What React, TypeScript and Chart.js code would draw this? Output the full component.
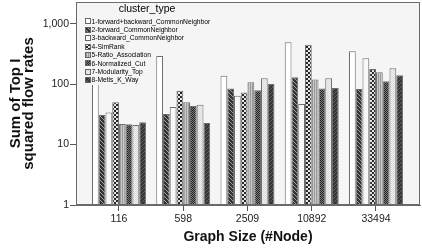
import React, { useEffect, useRef } from 'react';
import { Chart, registerables } from 'chart.js';

Chart.register(...registerables);

const categories = ['116', '598', '2509', '10892', '33494'];
const seriesNames = [
  '1-forward+backward_CommonNeighbor',
  '2-forward_CommonNeighbor',
  '3-backward_CommonNeighbor',
  '4-SimRank',
  '5-Ratio_Association',
  '6-Normalized_Cut',
  '7-Modularity_Top',
  '8-Metis_K_Way',
];
const s1 = [400, 293, 138, 495, 351];
const s2 = [31, 32, 85, 130, 83];
const s3 = [34, 42, 64, 47, 268];
const s4 = [50, 78, 73, 450, 178];
const s5 = [22, 50, 108, 119, 157];
const s6 = [21.7, 43.5, 79, 85, 112];
const s7 = [21, 45.7, 125, 125, 183];
const s8 = [23.4, 22.8, 101, 86, 140];
const seriesValues = [s1, s2, s3, s4, s5, s6, s7, s8];
const yTicks = [1, 10, 100, 1000];

const FONT = '"Liberation Sans", Arial, sans-serif';

type Cell = [number, number];

function makePattern(ctx: CanvasRenderingContext2D, size: number, bg: string, fg: string, cells: Cell[]) {
  const c = document.createElement('canvas');
  c.width = size;
  c.height = size;
  const g = c.getContext('2d')!;
  g.fillStyle = bg;
  g.fillRect(0, 0, size, size);
  g.fillStyle = fg;
  cells.forEach(([x, y]) => g.fillRect(x, y, 1, 1));
  return ctx.createPattern(c, 'repeat')!;
}

function buildFills(ctx: CanvasRenderingContext2D): (string | CanvasPattern)[] {
  const diagA: Cell[] = [[0, 0], [1, 1], [2, 2], [3, 3]];
  const diagB: Cell[] = [[3, 0], [2, 1], [1, 2], [0, 3]];
  const checker2: Cell[] = [[0, 0], [1, 0], [0, 1], [1, 1], [2, 2], [3, 2], [2, 3], [3, 3]];
  const checker1: Cell[] = [[0, 0], [1, 1]];
  const vstripe: Cell[] = [[0, 0], [0, 1]];
  return [
    '#ffffff',
    makePattern(ctx, 4, '#343434', '#a0a0a0', diagA),
    makePattern(ctx, 2, '#fbfbfb', '#eeeeee', [[0, 0]]),
    makePattern(ctx, 4, '#e6e6e6', '#262626', checker2),
    makePattern(ctx, 2, '#cacaca', '#9a9a9a', vstripe),
    makePattern(ctx, 2, '#7a7a7a', '#262626', checker1),
    makePattern(ctx, 2, '#f2f2f2', '#d8d8d8', checker1),
    makePattern(ctx, 4, '#363636', '#606060', diagB),
  ];
}

export default function App() {
  const ref = useRef<HTMLCanvasElement | null>(null);

  useEffect(() => {
    document.body.style.margin = '0';
    const canvas = ref.current!;
    const ctx = canvas.getContext('2d')!;
    const fills = buildFills(ctx);

    const bgPlugin = {
      id: 'plotBg',
      beforeDatasetsDraw(chart: any) {
        const { ctx: c, chartArea: a } = chart;
        c.save();
        c.fillStyle = '#f5f5f5';
        c.fillRect(a.left, a.top, a.right - a.left, a.bottom - a.top);
        c.restore();
      },
      afterDatasetsDraw(chart: any) {
        const { ctx: c, chartArea: a } = chart;
        c.save();
        c.strokeStyle = '#6a6a6a';
        c.lineWidth = 1;
        c.strokeRect(Math.round(a.left) + 0.5, Math.round(a.top) + 0.5, Math.round(a.right - a.left) - 1, Math.round(a.bottom - a.top) - 1);
        // legend
        c.fillStyle = '#f5f5f5';
        c.fillRect(80, 3, 72, 82);
        c.fillStyle = '#000';
        c.font = `10.5px ${FONT}`;
        c.textAlign = 'center';
        c.textBaseline = 'middle';
        c.fillText('cluster_type', 147, 9.5);
        c.font = `6.7px ${FONT}`;
        c.textAlign = 'left';
        seriesNames.forEach((name, i) => {
          const cy = 21.3 + i * 8.4;
          const top = Math.round(cy - 3);
          c.fillStyle = fills[i];
          c.fillRect(85, top, 6, 6);
          c.strokeStyle = '#666';
          c.strokeRect(85.5, top + 0.5, 5, 5);
          c.fillStyle = '#000';
          c.fillText(name, 91.5, cy + 0.5);
        });
        c.restore();
      },
    };

    const chart = new Chart(canvas, {
      type: 'bar',
      data: {
        datasets: seriesValues.map((vals, i) => ({
          label: seriesNames[i],
          data: vals.map((v, j) => ({ x: j, y: v })),
          backgroundColor: fills[i] as any,
          borderColor: '#6e6e6e',
          borderWidth: 1,
          borderSkipped: 'bottom' as const,
          categoryPercentage: 0.84,
          barPercentage: 1.0,
        })),
      },
      options: {
        responsive: false,
        animation: false,
        events: [],
        layout: { padding: { top: 2, right: 2, left: 0, bottom: 0 } },
        plugins: {
          legend: { display: false },
          tooltip: { enabled: false },
        },
        scales: {
          x: {
            type: 'linear',
            offset: false,
            min: -0.669,
            max: 4.685,
            afterFit: (s: any) => { s.height = 45; s.paddingLeft = 0; s.paddingRight = 0; },
            afterBuildTicks: (s: any) => { s.ticks = categories.map((_, i) => ({ value: i })); },
            grid: { offset: false, drawOnChartArea: false, drawTicks: true, tickLength: 6, color: '#555' },
            border: { display: true, color: '#6a6a6a' },
            ticks: {
              color: '#222',
              font: { family: FONT, size: 10.5 },
              padding: 2,
              maxRotation: 0,
              autoSkip: false,
              callback: (v: any) => categories[Math.round(Number(v))] ?? '',
            },
            title: {
              display: true,
              text: 'Graph Size (#Node)',
              color: '#111',
              font: { family: FONT, size: 14, weight: 'bold', lineHeight: 1.2 },
              padding: { top: 0, bottom: 4 },
            },
          },
          y: {
            type: 'logarithmic',
            min: 1,
            max: 2290,
            afterFit: (s: any) => { s.width = 76; s.paddingTop = 0; s.paddingBottom = 0; },
            afterBuildTicks: (s: any) => { s.ticks = yTicks.map((v) => ({ value: v, major: true })); },
            grid: { drawOnChartArea: false, drawTicks: true, tickLength: 6, color: '#555' },
            border: { display: true, color: '#6a6a6a' },
            ticks: {
              color: '#222',
              font: { family: FONT, size: 10.5 },
              padding: 1,
              autoSkip: false,
              callback: (v: any) => Number(v).toLocaleString('en-US'),
            },
            title: {
              display: true,
              text: ['Sum of Top I', 'squared flow rates'],
              color: '#111',
              font: { family: FONT, size: 15, weight: 'bold', lineHeight: 0.88 },
              padding: { top: 9.4, bottom: 0 },
            },
          },
        },
      },
      plugins: [bgPlugin],
    } as any);

    return () => chart.destroy();
  }, []);

  return (
    <div style={{ position: 'absolute', left: 0, top: 0, width: 422, height: 250, background: '#fff' }}>
      <canvas ref={ref} width={422} height={250} style={{ display: 'block' }} />
    </div>
  );
}
